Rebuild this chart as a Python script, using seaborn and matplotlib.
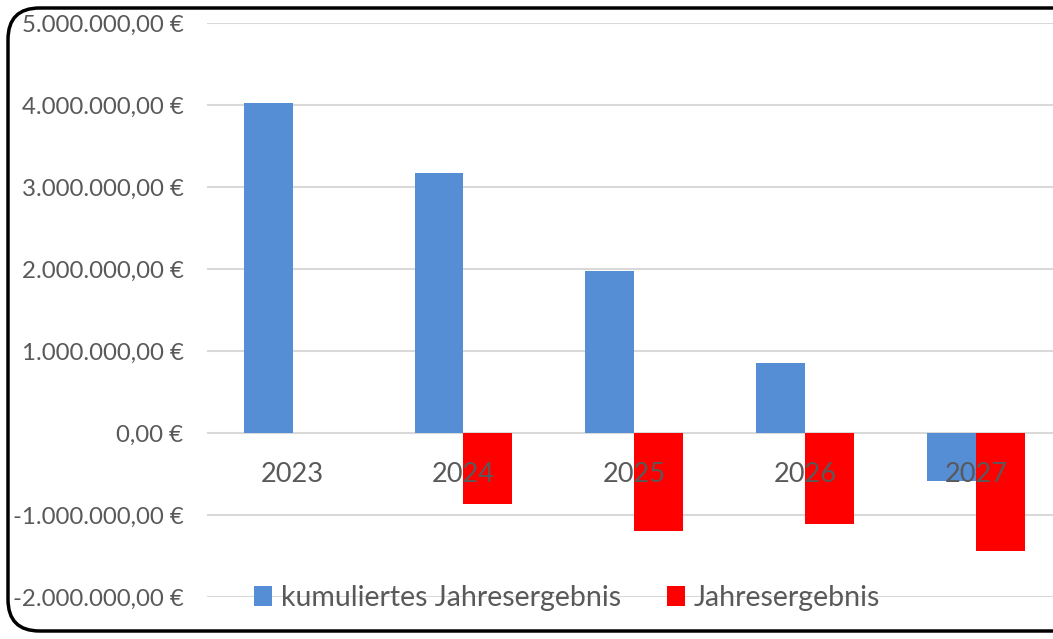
import pandas as pd
import seaborn as sns
import matplotlib.pyplot as plt
from matplotlib.patches import FancyBboxPatch
from matplotlib.ticker import FuncFormatter, MultipleLocator

jahre = ['2023', '2024', '2025', '2026', '2027']
kumuliert = [4030000, 3170000, 1970000, 850000, -580000]
jahresergebnis = [0, -870000, -1200000, -1110000, -1435000]
serien = ['kumuliertes Jahresergebnis', 'Jahresergebnis']
farben = ['#558ED5', '#FF0000']

df = pd.DataFrame({
    'Jahr': jahre * 2,
    'Wert': kumuliert + jahresergebnis,
    'Serie': [serien[0]] * len(jahre) + [serien[1]] * len(jahre),
})

sns.set_style('white')
plt.rcParams['font.family'] = ['Lato', 'DejaVu Sans']

fig = plt.figure(figsize=(10.53, 6.39), dpi=100)
ax = fig.add_axes([0.1966, 0.0657, 0.8119, 0.8983])

sns.barplot(data=df, x='Jahr', y='Wert', hue='Serie', palette=farben,
            width=0.573, saturation=1, linewidth=0, ax=ax, legend=True)

ax.set_ylim(-2000000, 5000000)
ax.set_xlim(-0.5, 4.5)
ax.yaxis.set_major_locator(MultipleLocator(1000000))


def euro(v, pos):
    s = f"{v:,.2f}".replace(',', 'X').replace('.', ',').replace('X', '.')
    return s + ' €'


ax.yaxis.set_major_formatter(FuncFormatter(euro))
ax.grid(axis='y', color='#D9D9D9', linewidth=1.5)
ax.set_axisbelow(True)
for s in ax.spines.values():
    s.set_visible(False)
ax.tick_params(axis='y', length=0, pad=17, labelsize=17.3, labelcolor='#595959')
ax.set_xticks([])
ax.set_xlabel('')
ax.set_ylabel('')

for i, j in enumerate(jahre):
    ax.text(i, -510000, j, ha='center', va='center', fontsize=19.5, color='#595959')

handles, labels = ax.get_legend_handles_labels()
ax.legend_.remove()
fig.legend(handles, labels, loc='center', bbox_to_anchor=(567 / 1053, 1 - 598 / 639),
           ncol=2, frameon=False, fontsize=20.5, labelcolor='#595959',
           handlelength=0.65, handleheight=0.65, handletextpad=0.3, columnspacing=1.6)

rahmen = FancyBboxPatch((8 / 1053, 8 / 639), 1.1, 1 - 16 / 639,
                        boxstyle='round,pad=0,rounding_size=0.03',
                        transform=fig.transFigure, fill=False,
                        edgecolor='black', linewidth=2.5, mutation_aspect=1053 / 639)
fig.patches.append(rahmen)

fig.savefig('out.png', dpi=100)
